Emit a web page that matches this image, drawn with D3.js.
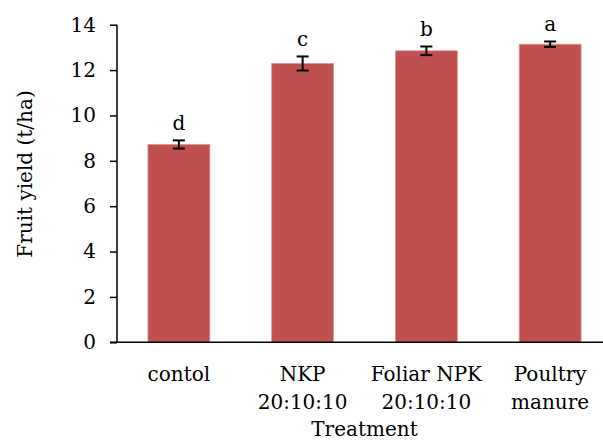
<!DOCTYPE html>
<html>
<head>
<meta charset="utf-8">
<script src="https://cdn.jsdelivr.net/npm/d3@7"></script>
<style>
  html, body { margin: 0; padding: 0; background: #fff; }
  svg text { font-family: "DejaVu Serif", serif; fill: #000; }
</style>
</head>
<body>
<svg id="chart" width="603" height="441"></svg>
<script>
// Fruit yield by treatment (means with standard error and letter groups)
const treatments = [["contol"], ["NKP", "20:10:10"], ["Foliar NPK", "20:10:10"], ["Poultry", "manure"]];
const yieldMeans = [8.72, 12.29, 12.85, 13.14];
const yieldErrors = [0.18, 0.31, 0.19, 0.12];
const groupLetters = ["d", "c", "b", "a"];
const yTicks = [0, 2, 4, 6, 8, 10, 12, 14];

const svg = d3.select("#chart");
const plotLeft = 117, plotRight = 612, plotTop = 24.7, plotBottom = 342.3;
const fontSize = 20;

const x = d3.scaleBand()
  .domain(d3.range(treatments.length))
  .range([plotLeft, plotRight])
  .paddingInner(0.5)
  .paddingOuter(0.25);

const y = d3.scaleLinear().domain([0, 14]).range([plotBottom, plotTop]);

// bars
svg.append("g").selectAll("rect")
  .data(yieldMeans)
  .join("rect")
  .attr("x", (d, i) => x(i))
  .attr("y", d => y(d))
  .attr("width", x.bandwidth())
  .attr("height", d => y(0) - y(d))
  .attr("fill", "#C0504D")
  .attr("stroke", "#D99694")
  .attr("stroke-width", 0.8);

// y axis
const yAxis = svg.append("g")
  .attr("transform", `translate(${plotLeft},0)`)
  .call(d3.axisLeft(y).tickValues(yTicks).tickSize(7).tickPadding(14).tickFormat(d3.format("d")));
yAxis.select(".domain").attr("stroke", "#000").attr("stroke-width", 1.5).attr("d", `M0,${plotTop}V${plotBottom}`);
yAxis.selectAll(".tick line").attr("stroke", "#000").attr("stroke-width", 1.5);
yAxis.selectAll(".tick text").style("font-size", fontSize + "px").style("font-family", "DejaVu Serif");

// x axis baseline
svg.append("line")
  .attr("x1", plotLeft - 7).attr("x2", 603)
  .attr("y1", y(0)).attr("y2", y(0))
  .attr("stroke", "#000").attr("stroke-width", 1.5);

// error bars
const cap = 6;
const err = svg.append("g").attr("stroke", "#000").attr("stroke-width", 2);
yieldMeans.forEach((m, i) => {
  const cx = x(i) + x.bandwidth() / 2;
  const e = yieldErrors[i];
  err.append("line").attr("x1", cx).attr("x2", cx).attr("y1", y(m + e)).attr("y2", y(m - e));
  err.append("line").attr("x1", cx - cap).attr("x2", cx + cap).attr("y1", y(m + e)).attr("y2", y(m + e));
  err.append("line").attr("x1", cx - cap).attr("x2", cx + cap).attr("y1", y(m - e)).attr("y2", y(m - e));
});

// significance letters
svg.append("g").selectAll("text")
  .data(groupLetters)
  .join("text")
  .attr("x", (d, i) => x(i) + x.bandwidth() / 2)
  .attr("y", (d, i) => y(yieldMeans[i] + yieldErrors[i]) - 10)
  .attr("text-anchor", "middle")
  .style("font-size", fontSize + "px")
  .text(d => d);

// category labels
const cat = svg.append("g");
treatments.forEach((lines, i) => {
  const t = cat.append("text")
    .attr("x", x(i) + x.bandwidth() / 2)
    .attr("y", 381)
    .attr("text-anchor", "middle")
    .style("font-size", fontSize + "px");
  lines.forEach((s, k) => {
    t.append("tspan").attr("x", x(i) + x.bandwidth() / 2).attr("dy", k === 0 ? 0 : 28).text(s);
  });
});

// axis titles
svg.append("text")
  .attr("x", (plotLeft + plotRight) / 2)
  .attr("y", 436)
  .attr("text-anchor", "middle")
  .style("font-size", fontSize + "px")
  .text("Treatment");

svg.append("text")
  .attr("transform", "translate(32,174) rotate(-90)")
  .attr("text-anchor", "middle")
  .style("font-size", fontSize + "px")
  .text("Fruit yield (t/ha)");
</script>
</body>
</html>
